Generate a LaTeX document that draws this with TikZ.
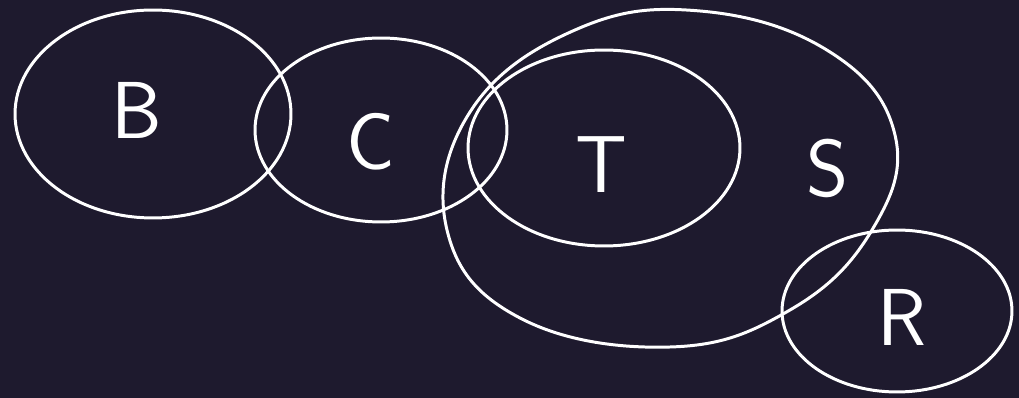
\documentclass[tikz,border=0pt]{standalone}
\usepackage{tikz}
\usetikzlibrary{positioning}
\definecolor{boardbg}{HTML}{1E1A2E}
\tikzset{every picture/.style={line width=1.7pt}}
\tikzset{
  setline/.style={draw=white, line width=1.7pt, line cap=round, line join=round},
  setlabel/.style={text=white, font=\fontsize{46}{46}\selectfont\sffamily, inner sep=0pt}
}

\begin{document}
\begin{tikzpicture}[x=0.02cm, y=-0.02cm]
    % Hintergrund
    \fill[boardbg] (0,0) rectangle (1019,398);
    \useasboundingbox (0,0) rectangle (1019,398);

    % Mengen
    \draw[setline] (153,114) ellipse [x radius=2.76cm, y radius=2.08cm];
    \draw[setline] (381,130) ellipse [x radius=2.52cm, y radius=1.84cm];
    \draw[setline] (604,148) ellipse [x radius=2.72cm, y radius=1.96cm];
    \draw[setline] (897,311) ellipse [x radius=2.30cm, y radius=1.62cm];
    \draw[setline] plot[smooth cycle, tension=0.7] coordinates {
        (700,11) (830,52) (895,135) (872,230) (790,310) (670,347)
        (520,318) (447,230) (470,112) (575,30)};

    % Beschriftungen
    \node[setlabel] (lblB) at (137,110) {B};
    \node[setlabel] (lblC) at (371,142) {C};
    \node[setlabel] (lblT) at (601,165) {T};
    \node[setlabel] (lblS) at (828,168) {S};
    \node[setlabel] (lblR) at (902,317) {R};
\end{tikzpicture}
\end{document}
